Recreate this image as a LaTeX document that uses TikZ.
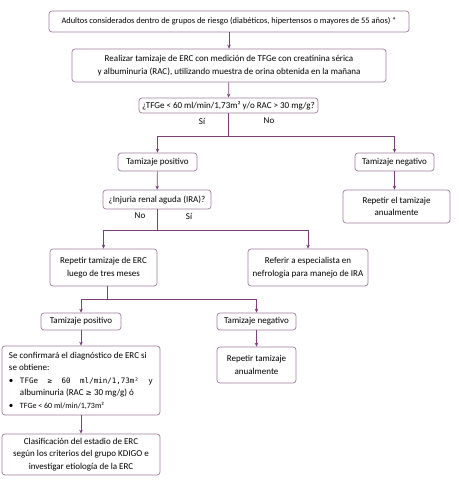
\documentclass[tikz,border=0pt]{standalone}
\usepackage{fontspec}
\setmainfont{Carlito}
\newfontfamily\symfont{DejaVu Sans}
\newfontfamily\monofont{DejaVu Sans Mono}
\usetikzlibrary{arrows.meta}

\definecolor{boxline}{HTML}{9C7E9C}
\definecolor{arrline}{HTML}{7B3F7B}

\tikzset{
  flowbox/.style={draw=boxline, rounded corners=3pt, line width=0.7pt, align=center,
    inner sep=0pt, font=\fontsize{9}{12.5}\selectfont},
  arr/.style={draw=arrline, line width=0.7pt, -{Stealth[length=4pt,width=3.5pt]}},
  conn/.style={draw=arrline, line width=0.7pt},
  lbl/.style={font=\fontsize{9}{10}\selectfont}
}

\begin{document}
\begin{tikzpicture}[x=1pt, y=-1pt]
	\useasboundingbox (0,0) rectangle (465,482);

	% boxes
	\node[flowbox, minimum width=360, minimum height=21, font=\fontsize{8.4}{12.5}\selectfont] (risk) at (229,21.5)
		{Adultos considerados dentro de grupos de riesgo (diabéticos, hipertensos o mayores de 55 años) *};
	\node[flowbox, minimum width=314, minimum height=33] (tam) at (229,65.5)
		{Realizar tamizaje de ERC con medición de TFGe con creatinina sérica\\
		 y albuminuria (RAC), utilizando muestra de orina obtenida en la mañana};
	\node[flowbox, minimum width=179, minimum height=15] (quest) at (228.5,105.5)
		{¿TFGe < 60 ml/min/1,73m² y/o RAC > 30 mg/g?};

	\node[flowbox, minimum width=79, minimum height=18] (pos1) at (157.5,162) {Tamizaje positivo};
	\node[flowbox, minimum width=79, minimum height=18] (neg1) at (394.5,162) {Tamizaje negativo};
	\node[flowbox, minimum width=108, minimum height=19] (ira) at (157,199.5) {¿Injuria renal aguda (IRA)?};
	\node[flowbox, minimum width=107, minimum height=33] (anual1) at (396.5,206.5)
		{Repetir el tamizaje\\ anualmente};

	\node[flowbox, minimum width=107, minimum height=37] (rep3) at (103.5,267.5)
		{Repetir tamizaje de ERC\\ luego de tres meses};
	\node[flowbox, minimum width=120, minimum height=37] (refer) at (308,267.5)
		{Referir a especialista en\\ nefrología para manejo de IRA};

	\node[flowbox, minimum width=80, minimum height=17] (pos2) at (81,321.5) {Tamizaje positivo};
	\node[flowbox, minimum width=79, minimum height=17] (neg2) at (256.5,321.5) {Tamizaje negativo};

	\node[flowbox, align=left, minimum width=158, minimum height=69] (confirm) at (81,380.5)
		{Se confirmará el diagnóstico de ERC si\\
		 se obtiene:\\
		 \makebox[11pt][l]{\textbullet}\makebox[133pt][s]{\monofont\fontsize{7.5}{12.5}\selectfont TFGe ≥ 60 ml/min/1,73m² y}\\
		 \hspace*{11pt}albuminuria (RAC {\symfont\fontsize{7.5}{12.5}\selectfont ≥} 30 mg/g) ó\\
		 \makebox[11pt][l]{\textbullet}\makebox[133pt][l]{\fontsize{8}{12.5}\selectfont TFGe < 60 ml/min/1,73m²}};
	\node[flowbox, minimum width=79, minimum height=36] (anual2) at (256.5,365)
		{Repetir tamizaje\\ anualmente};
	\node[flowbox, minimum width=158, minimum height=41] (clasif) at (81,454.5)
		{Clasificación del estadio de ERC\\ según los criterios del grupo KDIGO e\\ investigar etiología de la ERC};

	% branch points
	\coordinate (split1) at (228.5,136);
	\coordinate (split2) at (157,230);
	\coordinate (split3) at (107,299);

	% connectors
	\draw[arr] (risk) -- (tam);
	\draw[arr] (tam) -- (quest);
	\draw[conn] (quest) -- (split1);
	\draw[arr] (split1) -| (pos1);
	\draw[arr] (split1) -| (neg1);
	\draw[arr] (pos1) -- (ira);
	\draw[arr] (neg1.south) -- (neg1.south |- anual1.north);
	\draw[conn] (ira) -- (split2);
	\draw[arr] (split2) -| (rep3);
	\draw[arr] (split2) -| (refer);
	\draw[conn] (rep3.south -| split3) -- (split3);
	\draw[arr] (split3) -| (pos2);
	\draw[arr] (split3) -| (neg2);
	\draw[arr] (pos2) -- (confirm);
	\draw[arr] (neg2) -- (anual2);
	\draw[arr] (confirm) -- (clasif);

	% labels
	\node[lbl] (si1) at (202,121) {Sí};
	\node[lbl] (no1) at (269,121) {No};
	\node[lbl] (no2) at (140,216) {No};
	\node[lbl] (si2) at (189,216) {Sí};

\end{tikzpicture}
\end{document}
